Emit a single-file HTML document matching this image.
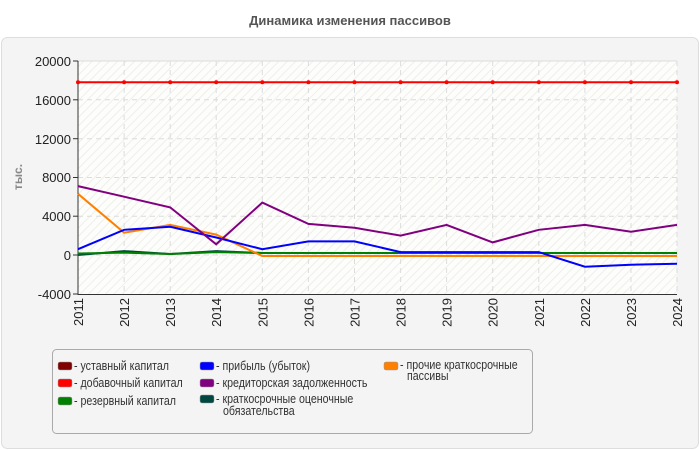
<!DOCTYPE html>
<html><head><meta charset="utf-8"><style>
body{margin:0;background:#fff;}
svg{display:block;font-family:"Liberation Sans",sans-serif;}
</style></head><body>
<svg width="700" height="450" viewBox="0 0 700 450" xmlns="http://www.w3.org/2000/svg">
<defs>
<pattern id="h" width="6" height="6" patternUnits="userSpaceOnUse" patternTransform="rotate(45)">
<rect width="6" height="6" fill="#fdfdfb"/><line x1="0" y1="0" x2="0" y2="6" stroke="#eeeeea" stroke-width="2"/>
</pattern>
</defs>
<text x="350" y="25" text-anchor="middle" font-size="13" font-weight="bold" fill="#555">Динамика изменения пассивов</text>
<rect x="1.5" y="37.5" width="697" height="411" rx="6" fill="#f4f4f4" stroke="#ddd"/>
<rect x="78" y="61" width="599" height="233" fill="url(#h)"/>
<g stroke="#dcdcdc" stroke-dasharray="5,4" stroke-width="1">
<line x1="78" y1="99.8" x2="677" y2="99.8"/><line x1="78" y1="138.7" x2="677" y2="138.7"/><line x1="78" y1="177.5" x2="677" y2="177.5"/><line x1="78" y1="216.2" x2="677" y2="216.2"/><line x1="78" y1="255" x2="677" y2="255"/>
<line x1="124.1" y1="61" x2="124.1" y2="294"/><line x1="170.2" y1="61" x2="170.2" y2="294"/><line x1="216.2" y1="61" x2="216.2" y2="294"/><line x1="262.3" y1="61" x2="262.3" y2="294"/><line x1="308.4" y1="61" x2="308.4" y2="294"/><line x1="354.5" y1="61" x2="354.5" y2="294"/><line x1="400.6" y1="61" x2="400.6" y2="294"/><line x1="446.6" y1="61" x2="446.6" y2="294"/><line x1="492.7" y1="61" x2="492.7" y2="294"/><line x1="538.8" y1="61" x2="538.8" y2="294"/><line x1="584.9" y1="61" x2="584.9" y2="294"/><line x1="631" y1="61" x2="631" y2="294"/><line x1="677" y1="61" x2="677" y2="294"/>
</g>
<line x1="78" y1="61" x2="677" y2="61" stroke="#ddd"/>
<g stroke="#333"><line x1="78" y1="61" x2="78" y2="295"/><line x1="78" y1="294.5" x2="677" y2="294.5"/>
<line x1="73" y1="61" x2="78" y2="61"/><line x1="73" y1="99.8" x2="78" y2="99.8"/><line x1="73" y1="138.7" x2="78" y2="138.7"/><line x1="73" y1="177.5" x2="78" y2="177.5"/><line x1="73" y1="216.2" x2="78" y2="216.2"/><line x1="73" y1="255" x2="78" y2="255"/><line x1="73" y1="294" x2="78" y2="294"/>
</g>
<g font-size="13" fill="#222" text-anchor="end">
<text x="71" y="66">20000</text><text x="71" y="105">16000</text><text x="71" y="144">12000</text><text x="71" y="182">8000</text><text x="71" y="221">4000</text><text x="71" y="260">0</text><text x="71" y="299">-4000</text>
</g>
<text transform="translate(22,177) rotate(-90)" text-anchor="middle" font-size="12" font-weight="bold" fill="#888">тыс.</text>
<g font-size="13" fill="#222" text-anchor="end">
<text transform="translate(83,298) rotate(-90)">2011</text><text transform="translate(129.1,298) rotate(-90)">2012</text><text transform="translate(175.2,298) rotate(-90)">2013</text><text transform="translate(221.2,298) rotate(-90)">2014</text><text transform="translate(267.3,298) rotate(-90)">2015</text><text transform="translate(313.4,298) rotate(-90)">2016</text><text transform="translate(359.5,298) rotate(-90)">2017</text><text transform="translate(405.6,298) rotate(-90)">2018</text><text transform="translate(451.6,298) rotate(-90)">2019</text><text transform="translate(497.7,298) rotate(-90)">2020</text><text transform="translate(543.8,298) rotate(-90)">2021</text><text transform="translate(589.9,298) rotate(-90)">2022</text><text transform="translate(636,298) rotate(-90)">2023</text><text transform="translate(682,298) rotate(-90)">2024</text>
</g>
<g fill="none" stroke-width="2">
<polyline stroke="#00473f" points="78,255 124.1,251.1 170.2,254 216.2,251.1 262.3,253 308.4,253 354.5,253 400.6,253 446.6,253 492.7,253 538.8,253 584.9,253 631,253 677,253"/>
<polyline stroke="#008000" points="78,253.5 124.1,252.6 170.2,254 216.2,252.1 262.3,253 308.4,253 354.5,253 400.6,253 446.6,253 492.7,253 538.8,253 584.9,253 631,253 677,253"/>
<polyline stroke="#ff8000" points="78,193.8 124.1,232.7 170.2,224.9 216.2,234.6 262.3,256 308.4,256 354.5,256 400.6,256 446.6,256 492.7,256 538.8,256 584.9,256 631,256 677,256"/>
<polyline stroke="#0000ff" points="78,249.2 124.1,229.8 170.2,226.8 216.2,237.5 262.3,249.2 308.4,241.4 354.5,241.4 400.6,252.1 446.6,252.1 492.7,252.1 538.8,252.1 584.9,266.7 631,264.7 677,263.7"/>
<polyline stroke="#800080" points="78,186.1 124.1,196.7 170.2,207.4 216.2,244.3 262.3,202.6 308.4,223.9 354.5,227.8 400.6,235.6 446.6,224.9 492.7,242.4 538.8,229.8 584.9,224.9 631,231.7 677,224.9"/>
<polyline stroke="#ff0000" points="78,82.2 677,82.2"/>
</g>
<g fill="#ff0000">
<circle cx="78" cy="82.2" r="2"/><circle cx="124.1" cy="82.2" r="2"/><circle cx="170.2" cy="82.2" r="2"/><circle cx="216.2" cy="82.2" r="2"/><circle cx="262.3" cy="82.2" r="2"/><circle cx="308.4" cy="82.2" r="2"/><circle cx="354.5" cy="82.2" r="2"/><circle cx="400.6" cy="82.2" r="2"/><circle cx="446.6" cy="82.2" r="2"/><circle cx="492.7" cy="82.2" r="2"/><circle cx="538.8" cy="82.2" r="2"/><circle cx="584.9" cy="82.2" r="2"/><circle cx="631" cy="82.2" r="2"/><circle cx="677" cy="82.2" r="2"/>
</g>
<rect x="52.5" y="349.5" width="480" height="84" rx="4" fill="#f4f4f4" stroke="#aaa"/>
<g font-size="12.5" fill="#333">
<rect x="58" y="362" width="14" height="8" rx="2" fill="#800000" stroke="#999" stroke-width="0.5"/><text transform="translate(74,370) scale(0.85,1)">- уставный капитал</text>
<rect x="58" y="379" width="14" height="8" rx="2" fill="#ff0000" stroke="#999" stroke-width="0.5"/><text transform="translate(74,387) scale(0.85,1)">- добавочный капитал</text>
<rect x="58" y="397" width="14" height="8" rx="2" fill="#008000" stroke="#999" stroke-width="0.5"/><text transform="translate(74,405) scale(0.85,1)">- резервный капитал</text>
<rect x="200" y="362" width="14" height="8" rx="2" fill="#0000ff" stroke="#999" stroke-width="0.5"/><text transform="translate(216,370) scale(0.85,1)">- прибыль (убыток)</text>
<rect x="200" y="379" width="14" height="8" rx="2" fill="#800080" stroke="#999" stroke-width="0.5"/><text transform="translate(216,387) scale(0.85,1)">- кредиторская задолженность</text>
<rect x="200" y="395" width="14" height="8" rx="2" fill="#00473f" stroke="#999" stroke-width="0.5"/><text transform="translate(216,403) scale(0.85,1)">- краткосрочные оценочные</text><text transform="translate(223,415) scale(0.85,1)">обязательства</text>
<rect x="384" y="362" width="14" height="8" rx="2" fill="#ff8000" stroke="#999" stroke-width="0.5"/><text transform="translate(400,369) scale(0.85,1)">- прочие краткосрочные</text><text transform="translate(407,380) scale(0.85,1)">пассивы</text>
</g>
</svg>
</body></html>
